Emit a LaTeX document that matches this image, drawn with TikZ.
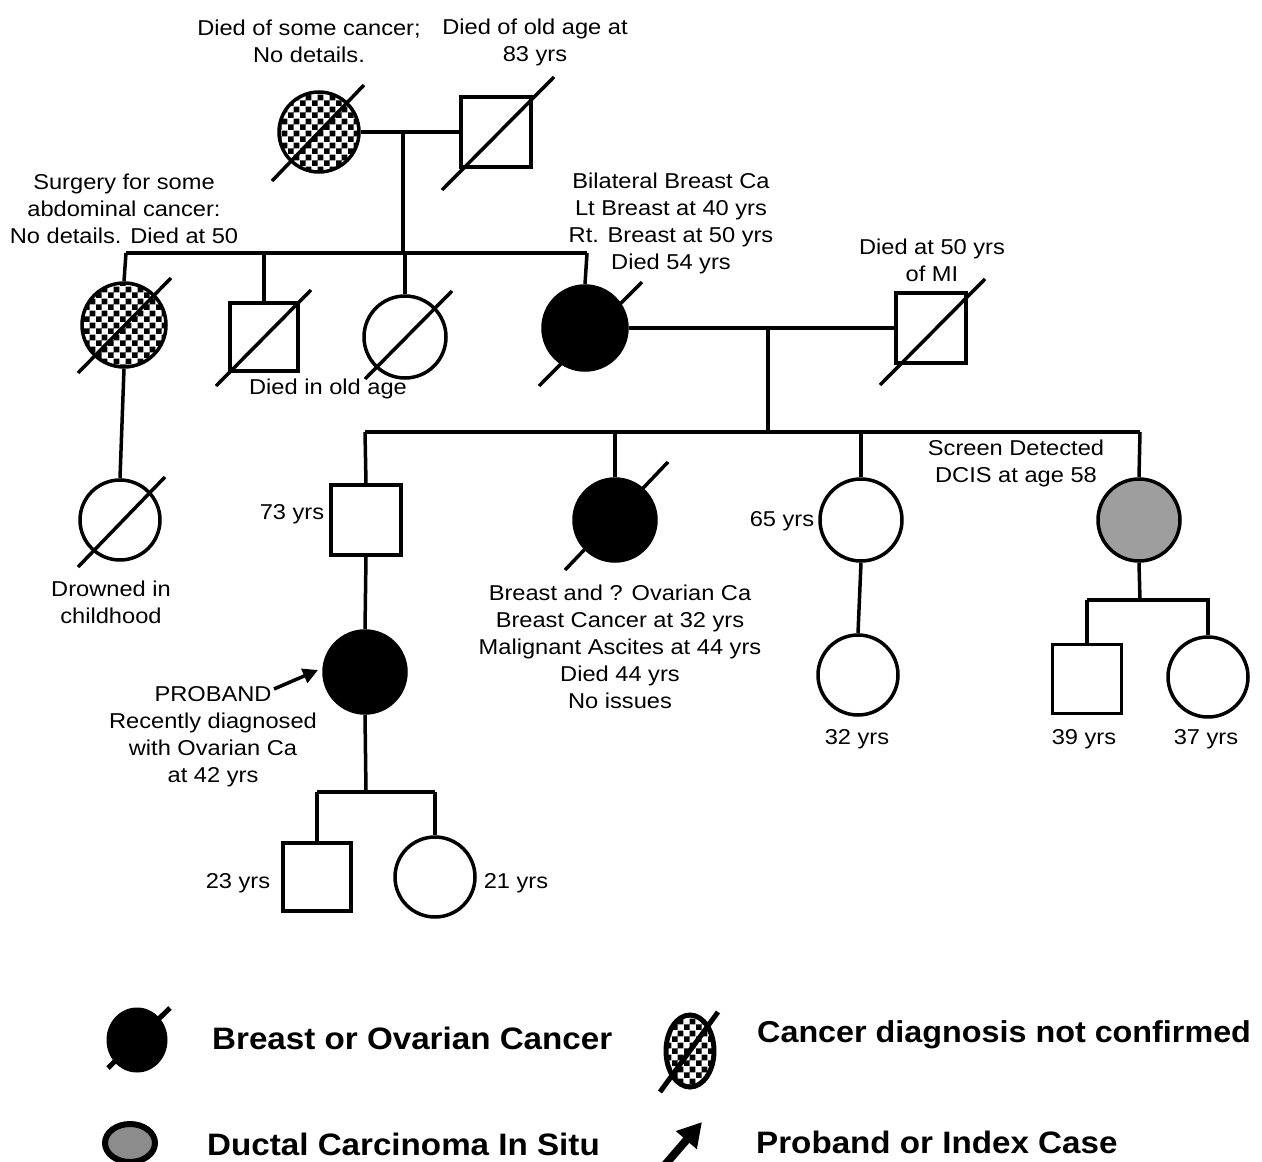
\documentclass[tikz,border=0pt]{standalone}
\usepackage{fontspec}
\setmainfont{Liberation Sans}
\newfontfamily\widefont[FakeStretch=1.1]{Liberation Sans}
\newfontfamily\lgdfont[FakeStretch=1.07]{Liberation Sans}
\usetikzlibrary{calc,patterns,arrows.meta,shapes.geometric}
\pgfdeclarepatternformonly{bigchecker}{\pgfpointorigin}{\pgfqpoint{12pt}{12pt}}{\pgfqpoint{12pt}{12pt}}{%
\pgfpathrectangle{\pgfpointorigin}{\pgfqpoint{6.1pt}{6.1pt}}%
\pgfpathrectangle{\pgfqpoint{6pt}{6pt}}{\pgfqpoint{6.1pt}{6.1pt}}%
\pgfusepath{fill}}
\begin{document}
\begin{tikzpicture}[x=1pt,y=-1pt,
  ln/.style={line width=3.5pt},
  fem/.style={circle,draw,line width=3.5pt,minimum size=#1,inner sep=0pt},
  fem/.default=80pt,
  mal/.style={rectangle,draw,line width=3.5pt,minimum size=#1,inner sep=0pt},
  mal/.default=69pt,
  aff/.style={fill=black},
  chk/.style={pattern=bigchecker},
  dcis/.style={fill=black!38},
  txt/.style={inner sep=0pt,align=center,font=\widefont\fontsize{21.5}{27}\selectfont},
  lgd/.style={inner sep=0pt,anchor=west,font=\lgdfont\fontsize{31}{36}\selectfont\bfseries}]
\useasboundingbox (0,0) rectangle (1262,1162);
\fill[white] (0,0) rectangle (1262,1162);

% ---- Generation I
\node[fem=80pt,chk] (gp1) at (319,132) {};
\node[mal=70pt] (gp2) at (496,132) {};
\draw[ln] (gp1.east) -- (gp2.west);
\coordinate (m1) at (403,132);
\coordinate (s1) at (403,253);
\draw[ln] (m1) -- (s1);
\draw[ln] ($(gp1)+(-47,49)$) -- ($(gp1)+(45,-47)$);
\draw[ln] ($(gp2)+(-54,58)$) -- ($(gp2)+(58,-55)$);
\node[txt] (t1) at (309,41) {Died of some cancer;\\No details.};
\node[txt] (t2) at (535,42) {Died of old age at\\83 yrs};

% ---- Generation II
\coordinate (s1l) at (126,253);
\coordinate (s1r) at (587,253);
\draw[ln] (s1l) -- (s1r);
\node[fem=84pt,chk] (c1) at (124,325) {};
\node[mal=68pt] (c2) at (264,337) {};
\node[fem=82pt] (c3) at (405,337) {};
\node[fem=84pt,aff] (c4) at (585,328) {};
\node[mal=70pt] (c5) at (931,328) {};
\draw[ln] (s1l) -- (c1.north);
\draw[ln] (c2.north |- s1l) -- (c2.north);
\draw[ln] (c3.north |- s1l) -- (c3.north);
\draw[ln] (s1r) -- (c4.north);
\draw[ln] (c4.east) -- (c5.west);
\draw[ln] ($(c1)+(-46,48)$) -- ($(c1)+(47,-47)$);
\draw[ln] ($(c2)+(-48,49)$) -- ($(c2)+(47,-47)$);
\draw[ln] ($(c3)+(-40,42)$) -- ($(c3)+(47,-46)$);
\draw[ln] ($(c4)+(-46,58)$) -- ($(c4)+(57,-46)$);
\draw[ln] ($(c5)+(-51,57)$) -- ($(c5)+(54,-49)$);
\node[txt] (t3) at (124,209) {Surgery for some\\abdominal cancer:\\No details. Died at 50};
\node[txt] (t4) at (671,223) {Bilateral Breast Ca\\Lt Breast at 40 yrs\\Rt. Breast at 50 yrs\\Died 54 yrs};
\node[txt] (t5) at (932,260) {Died at 50 yrs\\of MI};
\node[txt] (t6) at (328,389) {Died in old age};

% ---- Generation III
\coordinate (m2) at (768,328);
\coordinate (s2) at (768,432);
\draw[ln] (m2) -- (s2);
\coordinate (s2l) at (365,432);
\coordinate (s2r) at (1140,432);
\draw[ln] (s2l) -- (s2r);
\node[fem=80pt] (e0) at (120,520) {};
\draw[ln] (c1.south) -- (e0.north);
\draw[ln] ($(e0)+(-42,47)$) -- ($(e0)+(45,-43)$);
\node[mal=70pt] (d1) at (366,520) {};
\node[fem=82pt,aff] (d2) at (615,520) {};
\node[fem=82pt] (d3) at (861,520) {};
\node[fem=82pt,dcis] (d4) at (1139,520) {};
\draw[ln] (s2l) -- (d1.north);
\draw[ln] (d2.north |- s2l) -- (d2.north);
\draw[ln] (d3.north |- s2l) -- (d3.north);
\draw[ln] (s2r) -- (d4.north);
\draw[ln] ($(d2)+(-50,50)$) -- ($(d2)+(53,-58)$);
\node[txt] (t7) at (111,602) {Drowned in\\childhood};
\node[txt] (t8) at (292,514) {73 yrs};
\node[txt] (t9) at (620,647) {Breast and ? Ovarian Ca\\Breast Cancer at 32 yrs\\Malignant Ascites at 44 yrs\\Died 44 yrs\\No issues};
\node[txt] (t10) at (782,521) {65 yrs};
\node[txt] (t11) at (1016,463) {Screen Detected\\DCIS at age 58};

% ---- Generation IV
\node[fem=82pt,aff] (pro) at (365,672) {};
\draw[ln] (d1.south) -- (pro.north);
\node[txt] (t12) at (213,737) {PROBAND\\Recently diagnosed\\with Ovarian Ca\\at 42 yrs};
\coordinate (arS) at (274,689);
\coordinate (arE) at (318,670);
\draw[line width=3.5pt,-{Triangle[length=15pt,width=15pt]}] (arS) -- (arE);

\node[fem=80pt] (e3) at (858,675) {};
\draw[ln] (d3.south) -- (e3.north);
\node[txt] (t13) at (857,739) {32 yrs};

\coordinate (m3) at (1140,600);
\coordinate (s3l) at (1087,600);
\coordinate (s3r) at (1210,600);
\draw[ln] (d4.south) -- (m3);
\draw[ln] (s3l) -- (s3r);
\node[mal=69pt] (f1) at (1087,679) {};
\node[fem=80pt] (f2) at (1208,677) {};
\draw[ln] (s3l) -- (f1.north);
\draw[ln] (f2.north |- s3r) -- (f2.north);
\node[txt] (t14) at (1084,739) {39 yrs};
\node[txt] (t15) at (1206,739) {37 yrs};

% ---- Generation V
\coordinate (m4) at (366,792);
\coordinate (s4l) at (317,792);
\coordinate (s4r) at (435,792);
\draw[ln] (pro.south) -- (m4);
\draw[ln] (s4l) -- (s4r);
\node[mal=68pt] (g1) at (317,877) {};
\node[fem=80pt] (g2) at (435,877) {};
\draw[ln] (s4l) -- (g1.north);
\draw[ln] (s4r) -- (g2.north);
\node[txt] (t16) at (238,883) {23 yrs};
\node[txt] (t17) at (516,883) {21 yrs};

% ---- Legend
\node[ellipse,fill=black,minimum width=60pt,minimum height=64pt,inner sep=0pt,draw,line width=1pt] (L1) at (137,1040) {};
\draw[line width=5pt] (108,1068) -- (170,1008);
\node[lgd] (L1t) at (212,1038) {Breast or Ovarian Cancer};
\node[ellipse,draw,line width=6pt,fill=black!45,minimum width=50pt,minimum height=38pt,inner sep=0pt] (L2) at (130,1143) {};
\node[lgd] (L2t) at (207,1144) {Ductal Carcinoma In Situ};
\node[ellipse,draw,line width=5pt,chk,minimum width=48pt,minimum height=72pt,inner sep=0pt] (L3) at (690,1051) {};
\draw[line width=5pt] (660,1092) -- (718,1012);
\node[lgd,font=\lgdfont\fontsize{30.2}{36}\selectfont\bfseries] (L3t) at (757,1035) {Cancer diagnosis not confirmed};
\coordinate (L4s) at (664,1166);
\coordinate (L4e) at (702,1122);
\draw[line width=8pt,-{Triangle[length=24pt,width=26pt]}] (L4s) -- (L4e);
\node[lgd] (L4t) at (756,1142) {Proband or Index Case};
\end{tikzpicture}
\end{document}
